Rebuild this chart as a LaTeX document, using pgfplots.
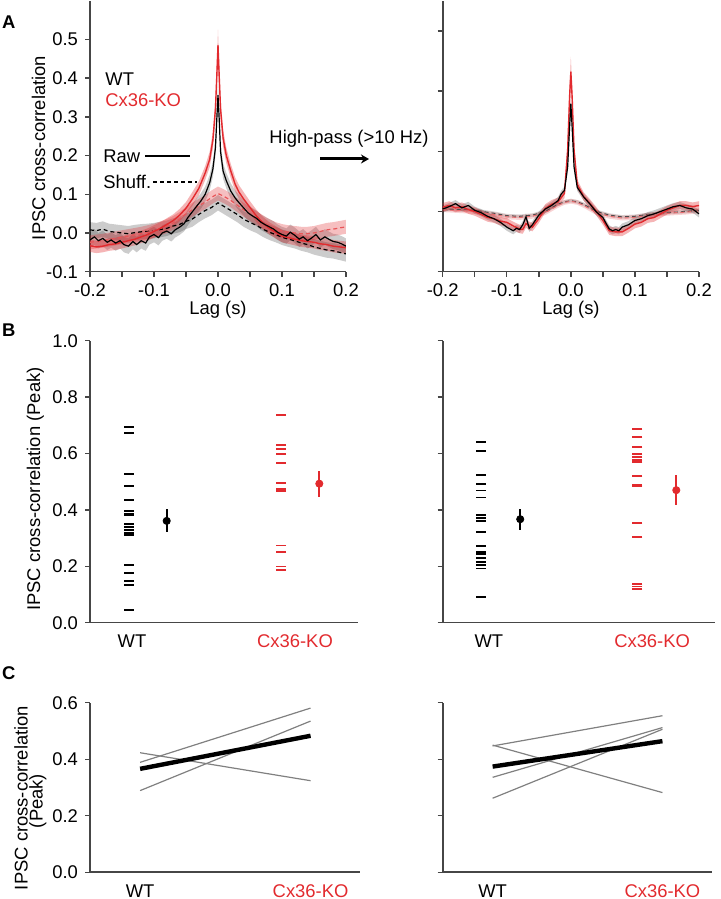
\documentclass[border=0pt]{standalone}
\usepackage{pgfplots}
\pgfplotsset{compat=1.18}
\usepackage{pgfplotstable}
\usepgfplotslibrary{fillbetween}
\usetikzlibrary{arrows.meta}
\usepackage{fontspec}
\setmainfont{Liberation Sans}
\definecolor{KOred}{RGB}{226,42,46}
\definecolor{axgray}{RGB}{70,70,70}
\newcommand{\fs}{\fontsize{9.2}{11}\selectfont}

% ---------- Panel A, raw (left) ----------
\pgfplotstableread{
x y e
-0.200 -0.018 0.02
-0.193 -0.010 0.02
-0.187 -0.020 0.02
-0.180 -0.014 0.02
-0.173 -0.024 0.02
-0.167 -0.018 0.02
-0.160 -0.026 0.02
-0.153 -0.020 0.02
-0.147 -0.030 0.02
-0.140 -0.034 0.02
-0.133 -0.022 0.02
-0.127 -0.030 0.02
-0.120 -0.020 0.02
-0.113 -0.026 0.02
-0.107 -0.010 0.02
-0.100 -0.004 0.02
-0.093 -0.012 0.02
-0.087 0.000 0.02
-0.080 0.005 0.02
-0.073 -0.002 0.02
-0.067 0.008 0.02
-0.060 0.015 0.02
-0.053 0.024 0.02
-0.047 0.040 0.02
-0.040 0.055 0.02
-0.033 0.070 0.02
-0.027 0.082 0.02
-0.020 0.100 0.02
-0.013 0.130 0.02
-0.008 0.165 0.02
-0.004 0.220 0.022
-0.002 0.290 0.025
0.000 0.356 0.03
0.002 0.290 0.025
0.004 0.210 0.022
0.008 0.160 0.02
0.013 0.135 0.02
0.020 0.108 0.02
0.027 0.090 0.02
0.033 0.078 0.02
0.040 0.065 0.02
0.047 0.052 0.02
0.053 0.045 0.02
0.060 0.038 0.02
0.067 0.028 0.02
0.073 0.022 0.02
0.080 0.016 0.02
0.087 0.010 0.02
0.093 0.002 0.02
0.100 -0.004 0.02
0.107 -0.008 0.02
0.113 0.002 0.02
0.120 -0.006 0.02
0.127 -0.016 0.02
0.133 -0.010 0.02
0.140 -0.020 0.02
0.147 -0.012 0.02
0.153 -0.004 0.02
0.160 -0.018 0.02
0.167 -0.010 0.02
0.173 -0.016 0.02
0.180 -0.022 0.02
0.187 -0.024 0.02
0.193 -0.028 0.02
0.200 -0.034 0.02
}\WTrawL

\pgfplotstableread{
x y e
-0.200 0.008 0.02
-0.190 0.006 0.02
-0.180 0.010 0.02
-0.170 0.004 0.02
-0.160 0.002 0.02
-0.150 0.000 0.02
-0.140 -0.002 0.02
-0.130 0.001 0.02
-0.120 0.003 0.02
-0.110 0.004 0.02
-0.100 0.006 0.02
-0.090 0.009 0.02
-0.080 0.012 0.02
-0.070 0.018 0.02
-0.060 0.022 0.02
-0.050 0.030 0.02
-0.040 0.036 0.02
-0.030 0.048 0.02
-0.020 0.058 0.02
-0.010 0.066 0.02
0.000 0.078 0.02
0.010 0.068 0.02
0.020 0.058 0.02
0.030 0.048 0.02
0.040 0.036 0.02
0.050 0.027 0.02
0.060 0.020 0.02
0.070 0.010 0.02
0.080 0.002 0.02
0.090 -0.004 0.02
0.100 -0.011 0.02
0.110 -0.016 0.02
0.120 -0.020 0.02
0.130 -0.026 0.02
0.140 -0.030 0.02
0.150 -0.036 0.02
0.160 -0.040 0.02
0.170 -0.044 0.02
0.180 -0.046 0.02
0.190 -0.050 0.02
0.200 -0.054 0.02
}\WTshL

\pgfplotstableread{
x y e
-0.200 -0.033 0.016
-0.190 -0.036 0.016
-0.180 -0.034 0.016
-0.170 -0.030 0.016
-0.160 -0.028 0.016
-0.150 -0.024 0.016
-0.140 -0.020 0.016
-0.130 -0.016 0.016
-0.120 -0.010 0.016
-0.110 -0.004 0.016
-0.100 0.004 0.016
-0.090 0.012 0.016
-0.080 0.022 0.016
-0.070 0.032 0.016
-0.060 0.046 0.016
-0.050 0.064 0.016
-0.040 0.088 0.018
-0.030 0.115 0.018
-0.020 0.155 0.018
-0.013 0.190 0.02
-0.008 0.240 0.022
-0.004 0.320 0.028
-0.002 0.400 0.034
0.000 0.485 0.04
0.002 0.400 0.034
0.004 0.320 0.028
0.008 0.245 0.022
0.013 0.200 0.02
0.020 0.160 0.018
0.027 0.125 0.018
0.033 0.105 0.018
0.040 0.088 0.018
0.050 0.066 0.016
0.060 0.044 0.016
0.070 0.026 0.016
0.080 0.012 0.016
0.090 0.002 0.016
0.100 -0.008 0.016
0.110 -0.012 0.016
0.120 -0.016 0.016
0.130 -0.020 0.016
0.140 -0.022 0.016
0.150 -0.024 0.016
0.160 -0.028 0.016
0.170 -0.030 0.016
0.180 -0.034 0.016
0.190 -0.036 0.016
0.200 -0.038 0.016
}\KOrawL

\pgfplotstableread{
x y e
-0.200 -0.024 0.018
-0.180 -0.020 0.018
-0.160 -0.014 0.018
-0.140 -0.008 0.018
-0.120 -0.002 0.018
-0.100 0.006 0.018
-0.090 0.012 0.018
-0.080 0.018 0.018
-0.070 0.026 0.018
-0.060 0.036 0.018
-0.050 0.049 0.018
-0.040 0.060 0.018
-0.030 0.070 0.018
-0.020 0.080 0.018
-0.010 0.092 0.018
0.000 0.102 0.018
0.010 0.094 0.018
0.020 0.084 0.018
0.030 0.072 0.018
0.040 0.060 0.018
0.050 0.049 0.018
0.060 0.038 0.018
0.070 0.028 0.018
0.080 0.018 0.018
0.090 0.010 0.018
0.100 0.005 0.018
0.110 0.002 0.018
0.120 0.000 0.018
0.130 -0.002 0.018
0.140 -0.002 0.018
0.150 0.000 0.018
0.160 0.004 0.018
0.170 0.008 0.018
0.180 0.010 0.018
0.190 0.013 0.018
0.200 0.016 0.018
}\KOshL

% ---------- Panel A, high-pass (right) ----------
\pgfplotstableread{
x y e
-0.200 0.004 0.006
-0.190 0.008 0.006
-0.180 0.013 0.006
-0.170 0.006 0.006
-0.160 0.010 0.006
-0.150 0.002 0.006
-0.140 -0.002 0.006
-0.130 -0.008 0.006
-0.120 -0.012 0.006
-0.110 -0.018 0.006
-0.100 -0.026 0.006
-0.090 -0.032 0.006
-0.085 -0.028 0.006
-0.080 -0.030 0.006
-0.075 -0.022 0.006
-0.070 -0.009 0.006
-0.065 -0.028 0.006
-0.060 -0.022 0.006
-0.050 -0.006 0.006
-0.040 0.004 0.006
-0.030 0.010 0.006
-0.020 0.018 0.006
-0.015 0.029 0.006
-0.010 0.035 0.006
-0.005 0.074 0.008
-0.002 0.140 0.01
0.000 0.179 0.012
0.002 0.140 0.01
0.005 0.074 0.008
0.010 0.040 0.006
0.015 0.032 0.006
0.020 0.024 0.006
0.030 0.012 0.006
0.040 -0.001 0.006
0.050 -0.010 0.006
0.055 -0.020 0.006
0.060 -0.029 0.006
0.065 -0.032 0.006
0.070 -0.030 0.006
0.075 -0.032 0.006
0.080 -0.026 0.006
0.090 -0.022 0.006
0.100 -0.015 0.006
0.110 -0.012 0.006
0.120 -0.007 0.006
0.130 -0.004 0.006
0.140 0.000 0.006
0.150 0.004 0.006
0.160 0.008 0.006
0.170 0.010 0.006
0.180 0.006 0.006
0.190 0.004 0.006
0.200 -0.004 0.006
}\WTrawR

\pgfplotstableread{
x y e
-0.200 0.007 0.007
-0.190 0.010 0.007
-0.180 0.006 0.007
-0.170 0.008 0.007
-0.160 0.003 0.007
-0.150 0.000 0.007
-0.140 -0.005 0.007
-0.130 -0.010 0.007
-0.120 -0.012 0.007
-0.110 -0.016 0.007
-0.100 -0.018 0.007
-0.090 -0.024 0.007
-0.080 -0.029 0.007
-0.075 -0.030 0.007
-0.070 -0.020 0.007
-0.065 -0.024 0.007
-0.060 -0.026 0.007
-0.050 -0.012 0.007
-0.040 0.005 0.007
-0.030 0.012 0.007
-0.020 0.016 0.007
-0.010 0.030 0.008
-0.005 0.102 0.012
-0.002 0.190 0.018
0.000 0.232 0.025
0.002 0.190 0.018
0.005 0.102 0.012
0.010 0.045 0.008
0.015 0.035 0.007
0.020 0.025 0.007
0.030 0.013 0.007
0.040 0.000 0.007
0.050 -0.015 0.007
0.060 -0.032 0.007
0.070 -0.034 0.007
0.080 -0.034 0.007
0.090 -0.028 0.007
0.100 -0.021 0.007
0.110 -0.018 0.007
0.120 -0.012 0.007
0.130 -0.010 0.007
0.140 -0.004 0.007
0.150 0.002 0.007
0.160 0.006 0.007
0.170 0.010 0.007
0.180 0.010 0.007
0.190 0.008 0.007
0.200 0.010 0.007
}\KOrawR

\pgfplotstableread{
x y e
-0.200 0.004 0.003
-0.150 0.002 0.003
-0.120 -0.003 0.003
-0.100 -0.007 0.003
-0.080 -0.008 0.003
-0.060 -0.006 0.003
-0.040 0.000 0.003
-0.030 0.006 0.003
-0.020 0.012 0.003
-0.010 0.016 0.003
0.000 0.018 0.003
0.010 0.016 0.003
0.020 0.012 0.003
0.030 0.006 0.003
0.040 0.000 0.003
0.060 -0.006 0.003
0.080 -0.009 0.003
0.100 -0.008 0.003
0.120 -0.005 0.003
0.150 -0.002 0.003
0.180 0.000 0.003
0.200 0.002 0.003
}\WTshR

\pgfplotstableread{
x y e
-0.200 0.003 0.004
-0.150 0.000 0.004
-0.120 -0.005 0.004
-0.100 -0.009 0.004
-0.080 -0.010 0.004
-0.060 -0.008 0.004
-0.040 -0.002 0.004
-0.030 0.004 0.004
-0.020 0.010 0.004
-0.010 0.015 0.004
0.000 0.017 0.004
0.010 0.015 0.004
0.020 0.010 0.004
0.030 0.004 0.004
0.040 -0.002 0.004
0.060 -0.008 0.004
0.080 -0.011 0.004
0.100 -0.010 0.004
0.120 -0.006 0.004
0.150 -0.003 0.004
0.180 -0.001 0.004
0.200 0.001 0.004
}\KOshR

\newcommand{\band}[4]{%
  \addplot[draw=none, name path=#4u, forget plot] table[x=x, y expr=\thisrow{y}+\thisrow{e}] {#1};
  \addplot[draw=none, name path=#4l, forget plot] table[x=x, y expr=\thisrow{y}-\thisrow{e}] {#1};
  \addplot[fill=#2, fill opacity=#3, draw=none, forget plot] fill between[of=#4u and #4l];
}

\pgfplotsset{
  base/.style={
    scale only axis,
    anchor=south west,
    axis lines=left,
    axis line style={axgray, line width=0.8pt, -},
    tick style={axgray, line width=0.7pt},
    tick align=outside,
    major tick length=2.5pt,
    minor tick length=2.5pt,
    tick label style={font=\fs},
    /pgf/number format/assume math mode=true,
    /pgf/number format/fixed,
    /pgf/number format/fixed zerofill,
    /pgf/number format/precision=1,
  },
  lagaxis/.style={
    base,
    width=128pt, height=135.5pt,
    xmin=-0.2, xmax=0.2,
    xtick={-0.2,-0.1,0,0.1,0.2},
    minor xtick={-0.15,-0.05,0.05,0.15},
  },
  catB/.style={
    base,
    height=141pt,
    ymin=0, ymax=1,
    ytick={0,0.2,0.4,0.6,0.8,1.0},
    xtick style={draw=none},
    clip=false,
  },
  catC/.style={
    base,
    height=84.8pt,
    ymin=0, ymax=0.6,
    ytick={0,0.2,0.4,0.6},
    xmin=-0.294, xmax=1.29,
    xtick={0,1},
    xticklabels={WT,{\textcolor{KOred}{Cx36-KO}}},
    xtick style={draw=none},
    clip=false,
  },
  dashWT/.style={only marks, mark=-, mark size=2.5pt, black, mark options={line width=0.9pt}},
  dashKO/.style={only marks, mark=-, mark size=2.5pt, KOred, mark options={line width=0.9pt}},
  meanWT/.style={only marks, mark=*, mark size=1.8pt, black,
    error bars/.cd, y dir=both, y explicit, error mark=none,
    error bar style={line width=1.1pt, black}},
  meanKO/.style={only marks, mark=*, mark size=1.8pt, KOred,
    error bars/.cd, y dir=both, y explicit, error mark=none,
    error bar style={line width=1.1pt, KOred}},
}

\begin{document}
\begin{tikzpicture}

% ================= A left =================
\begin{axis}[lagaxis, at={(45pt,313.65pt)},
  ymin=-0.1, ymax=0.6, ytick={-0.1,0,0.1,0.2,0.3,0.4,0.5}]
  \band{\WTshL}{black}{0.2}{a}
  \band{\WTrawL}{black}{0.2}{b}
  \band{\KOshL}{KOred}{0.3}{c}
  \band{\KOrawL}{KOred}{0.35}{d}
  \addplot[black, line width=0.6pt, dash pattern=on 2pt off 1.5pt] table[x=x,y=y] {\WTshL};
  \addplot[KOred!80, line width=0.6pt, dash pattern=on 2pt off 1.5pt] table[x=x,y=y] {\KOshL};
  \addplot[KOred, line width=0.7pt] table[x=x,y=y] {\KOrawL};
  \addplot[black, line width=0.6pt] table[x=x,y=y] {\WTrawL};
\end{axis}

% ================= A right =================
\begin{axis}[lagaxis, at={(221.35pt,313.65pt)}, width=128.15pt,
  ymin=-0.1, ymax=0.35, ytick={-0.1,0,0.1,0.2,0.3}, yticklabels={}]
  \band{\WTshR}{black}{0.15}{e}
  \band{\KOshR}{KOred}{0.2}{f}
  \band{\WTrawR}{black}{0.2}{g}
  \band{\KOrawR}{KOred}{0.35}{h}
  \addplot[black!70, line width=0.5pt, dash pattern=on 2pt off 1.5pt] table[x=x,y=y] {\WTshR};
  \addplot[KOred!70, line width=0.5pt, dash pattern=on 2pt off 1.5pt] table[x=x,y=y] {\KOshR};
  \addplot[KOred, line width=0.7pt] table[x=x,y=y] {\KOrawR};
  \addplot[black, line width=0.6pt] table[x=x,y=y] {\WTrawR};
\end{axis}

% ================= B left =================
\begin{axis}[catB, at={(45pt,138.15pt)}, width=134pt,
  xmin=90, xmax=358, xtick={132,295},
  xticklabels={WT,{\textcolor{KOred}{Cx36-KO}}}]
  \addplot[dashWT] coordinates {
    (128.5,0.693) (128.5,0.673) (128.5,0.527) (128.5,0.484) (128.5,0.436)
    (128.5,0.395) (128.5,0.387) (128.5,0.381) (128.5,0.350) (128.5,0.339)
    (128.5,0.329) (128.5,0.319) (128.5,0.310) (128.5,0.206) (128.5,0.176)
    (128.5,0.147) (128.5,0.133) (128.5,0.046)};
  \addplot[dashKO] coordinates {
    (281,0.737) (281,0.630) (281,0.615) (281,0.598) (281,0.566) (281,0.496)
    (281,0.473) (281,0.467) (281,0.274) (281,0.250) (281,0.199) (281,0.187)};
  \addplot[meanWT] coordinates {(166.7,0.361) +- (0,0.041)};
  \addplot[meanKO] coordinates {(319.3,0.493) +- (0,0.046)};
\end{axis}

% ================= B right =================
\begin{axis}[catB, at={(221.35pt,138.15pt)}, width=133.65pt,
  xmin=442.7, xmax=710, xtick={488,648},
  xticklabels={WT,{\textcolor{KOred}{Cx36-KO}}}, yticklabels={}]
  \addplot[dashWT] coordinates {
    (480,0.641) (480,0.608) (480,0.524) (480,0.493) (480,0.469) (480,0.444)
    (480,0.383) (480,0.372) (480,0.360) (480,0.322) (480,0.273) (480,0.252)
    (480,0.245) (480,0.230) (480,0.216) (480,0.204) (480,0.192) (480,0.092)};
  \addplot[dashKO] coordinates {
    (633.5,0.688) (633.5,0.658) (633.5,0.624) (633.5,0.597) (633.5,0.587)
    (633.5,0.578) (633.5,0.569) (633.5,0.520) (633.5,0.489) (633.5,0.485)
    (633.5,0.353) (633.5,0.304) (633.5,0.136) (633.5,0.128) (633.5,0.119)};
  \addplot[meanWT] coordinates {(518.7,0.367) +- (0,0.037)};
  \addplot[meanKO] coordinates {(671.7,0.470) +- (0,0.053)};
\end{axis}

% ================= C left =================
\begin{axis}[catC, at={(45pt,13.35pt)}, width=135pt]
  \addplot[gray, line width=0.6pt] coordinates {(0,0.423) (1,0.324)};
  \addplot[gray, line width=0.6pt] coordinates {(0,0.389) (1,0.581)};
  \addplot[gray, line width=0.6pt] coordinates {(0,0.289) (1,0.535)};
  \addplot[black, line width=2.2pt] coordinates {(0,0.366) (1,0.483)};
\end{axis}

% ================= C right =================
\begin{axis}[catC, at={(221.35pt,13.35pt)}, width=134.5pt, yticklabels={}]
  \addplot[gray, line width=0.6pt] coordinates {(0,0.450) (1,0.282)};
  \addplot[gray, line width=0.6pt] coordinates {(0,0.447) (1,0.554)};
  \addplot[gray, line width=0.6pt] coordinates {(0,0.336) (1,0.512)};
  \addplot[gray, line width=0.6pt] coordinates {(0,0.262) (1,0.506)};
  \addplot[black, line width=2.2pt] coordinates {(0,0.374) (1,0.464)};
\end{axis}

% ================= texts =================
\node[font=\fs\bfseries, anchor=base west, inner sep=0pt] at (0.85pt,435.35pt) {A};
\node[font=\fs\bfseries, anchor=base west, inner sep=0pt] at (0.85pt,281.15pt) {B};
\node[font=\fs\bfseries, anchor=base west, inner sep=0pt] at (0.85pt,109.5pt) {C};

\node[font=\fs, rotate=90, anchor=base, inner sep=0pt] at (22.5pt,375.5pt) {IPSC cross-correlation};
\node[font=\fs, rotate=90, anchor=base, inner sep=0pt] at (20pt,205pt) {IPSC cross-correlation (Peak)};
\node[font=\fs, rotate=90, anchor=base, inner sep=0pt] at (13.85pt,50.5pt) {IPSC cross-correlation};
\node[font=\fs, rotate=90, anchor=base, inner sep=0pt] at (21.35pt,49pt) {(Peak)};

\node[font=\fs, anchor=base, inner sep=0pt] at (109pt,292.25pt) {Lag (s)};
\node[font=\fs, anchor=base, inner sep=0pt] at (285.5pt,292.25pt) {Lag (s)};

\node[font=\fs, anchor=west, inner sep=0pt] at (52.5pt,410pt) {WT};
\node[font=\fs, anchor=west, inner sep=0pt, text=KOred] at (52.5pt,399.5pt) {Cx36-KO};
\node[font=\fs, anchor=west, inner sep=0pt] at (51.5pt,371.5pt) {Raw};
\draw[black, line width=0.6pt] (72.5pt,371.5pt) -- (95pt,371.5pt);
\node[font=\fs, anchor=west, inner sep=0pt] at (51.5pt,358.5pt) {Shuff.};
\draw[black, line width=0.6pt, dash pattern=on 2pt off 1.5pt] (76.5pt,358.5pt) -- (98.5pt,358.5pt);

\node[font=\fs] at (174.5pt,380pt) {High-pass (>10 Hz)};
\draw[line width=1.5pt, -{Stealth[length=4pt,width=4.5pt]}] (160pt,370pt) -- (184.5pt,370pt);

\pgfresetboundingbox
\useasboundingbox (0,0) rectangle (360.5pt,449.5pt);
\end{tikzpicture}
\end{document}
